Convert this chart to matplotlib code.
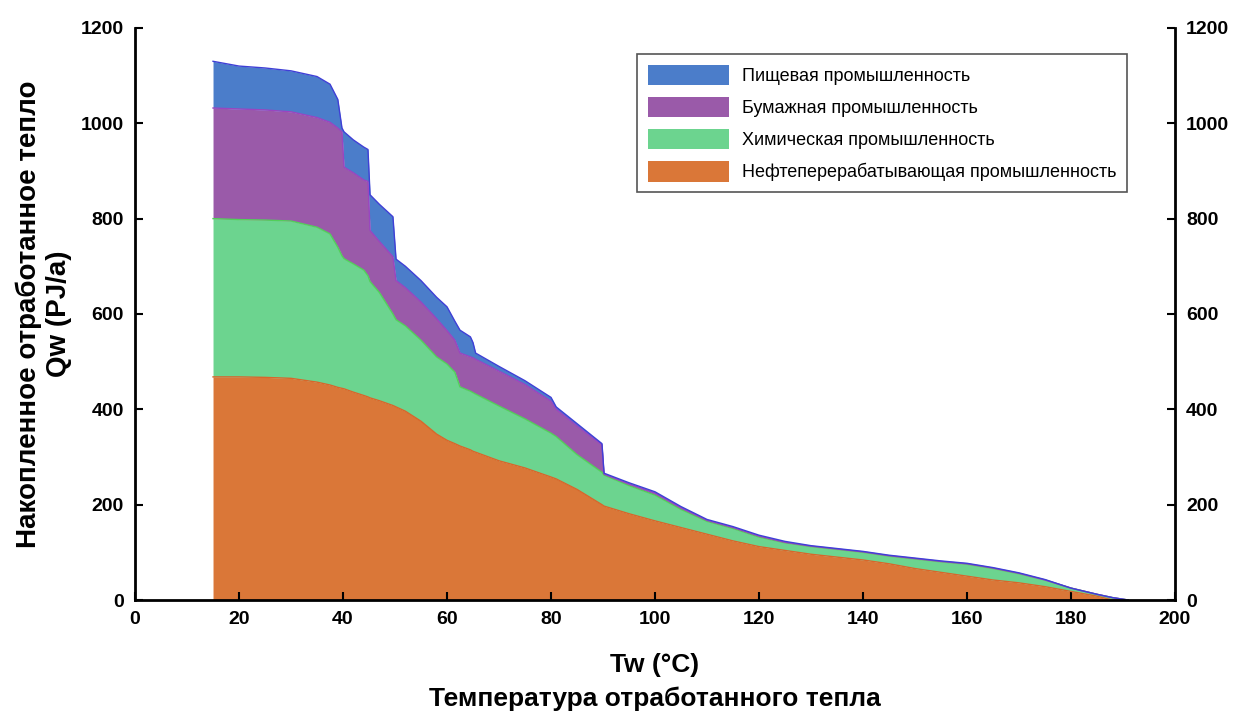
import matplotlib
matplotlib.use("Agg")
import matplotlib.pyplot as plt
from matplotlib import font_manager
from matplotlib.patches import Patch
import numpy as np

# temperature grid (°C); repeated neighbours make the vertical steps
temps = [15, 20, 25, 30, 35, 37.5, 39, 39.8, 40.2, 42, 44, 44.8, 45.2, 47, 49.6, 50.2,
         52, 55, 58, 60, 61.5, 62.5, 64.5, 65, 65.5, 70, 75, 80, 81, 85, 89.8, 90.2,
         95, 100, 105, 110, 115, 120, 125, 130, 135, 140, 145, 150, 155, 160, 165,
         170, 175, 180, 185, 188, 191]

# cumulative heat (PJ/a), read as the upper edge of each stacked band
refinery_top = [468, 468, 467, 465, 457, 451, 446, 444, 443, 436, 429, 426, 424, 418, 408, 405,
                396, 375, 348, 335, 328, 323, 315, 312, 310, 292, 277, 258, 254, 232, 200, 197,
                181, 166, 152, 138, 124, 112, 104, 96, 90, 84, 76, 66, 58, 50, 42,
                36, 28, 18, 8, 0, 0]
chemical_top = [800, 798, 797, 795, 782, 768, 740, 722, 716, 705, 692, 680, 668, 645, 600, 588,
                575, 545, 510, 495, 478, 447, 438, 435, 432, 407, 380, 350, 343, 305, 268, 262,
                240, 220, 190, 165, 150, 132, 120, 112, 106, 100, 92, 86, 80, 75, 66,
                55, 42, 25, 12, 5, 0]
paper_top = [1032, 1030, 1028, 1024, 1012, 1002, 990, 982, 908, 896, 881, 878, 775, 752, 720, 670,
             655, 625, 590, 565, 545, 518, 510, 508, 505, 480, 452, 417, 400, 365, 325, 264,
             243, 224, 193, 167, 152, 134, 121, 113, 107, 101, 93, 87, 81, 76, 67,
             56, 42, 25, 12, 5, 0]
food_top = [1130, 1120, 1116, 1110, 1098, 1082, 1050, 990, 982, 965, 950, 945, 850, 830, 804, 715,
            700, 670, 635, 615, 585, 566, 552, 540, 518, 490, 460, 425, 405, 370, 328, 266,
            246, 227, 196, 169, 154, 136, 123, 114, 108, 102, 94, 88, 82, 77, 68,
            57, 43, 25, 12, 5, 0]

labels = ["Пищевая промышленность", "Бумажная промышленность",
          "Химическая промышленность", "Нефтеперерабатывающая промышленность"]
fill_colors = ["#4b7dca", "#9a5aa9", "#6cd48f", "#da7738"]
edge_colors = ["#3f3fd6", "#9a45c0", "#52cf5a", "#d8662a"]

narrow = "Liberation Sans Narrow"
names = {f.name for f in font_manager.fontManager.ttflist}
if narrow not in names:
    narrow = "Liberation Sans"
plt.rcParams["font.family"] = [narrow, "DejaVu Sans"]

x = np.array(temps)
tops = [np.array(food_top), np.array(paper_top), np.array(chemical_top), np.array(refinery_top)]
bottoms = tops[1:] + [np.zeros_like(x, dtype=float)]

fig = plt.figure(figsize=(12.41, 7.16), dpi=100)
ax = fig.add_axes([0.1088, 0.162, 0.838, 0.799])

for top, bot, fc, ec in zip(tops[::-1], bottoms[::-1], fill_colors[::-1], edge_colors[::-1]):
    ax.fill_between(x, bot, top, color=fc, linewidth=0)
    ax.plot(x, top, color=ec, linewidth=1.0)

ax.set_xlim(0, 200)
ax.set_ylim(0, 1200)
ax.set_xticks(np.arange(0, 201, 20))
ax.set_yticks(np.arange(0, 1201, 200))

ax.spines["top"].set_visible(False)
for side in ["left", "right", "bottom"]:
    ax.spines[side].set_linewidth(2)
ax.tick_params(direction="in", length=6, width=1.5, right=True, labelright=True,
               labelsize=14, pad=8)
for lab in ax.get_xticklabels():
    lab.set_fontweight("bold")
for t in ax.yaxis.get_major_ticks():
    for lab in (t.label1, t.label2):
        lab.set_fontweight("bold")
        lab.set_fontfamily("Liberation Sans")

ax.set_xlabel("Tw (°C)\nТемпература отработанного тепла", fontsize=19,
              fontweight="bold", labelpad=18, linespacing=1.5)
ax.set_ylabel("Накопленное отработанное тепло\nQw (PJ/a)", fontsize=20,
              fontweight="bold", labelpad=6)

handles = [Patch(facecolor=c, edgecolor="none") for c in fill_colors]
leg = ax.legend(handles, labels, loc="upper left", bbox_to_anchor=(0.4827, 0.955),
                fontsize=13, fancybox=False, framealpha=1, edgecolor="#555555",
                handlelength=4.5, handleheight=1.4, handletextpad=0.7,
                labelspacing=0.62, borderpad=0.6, borderaxespad=0)
leg.get_frame().set_linewidth(1.2)

fig.savefig("out.png", dpi=100)
